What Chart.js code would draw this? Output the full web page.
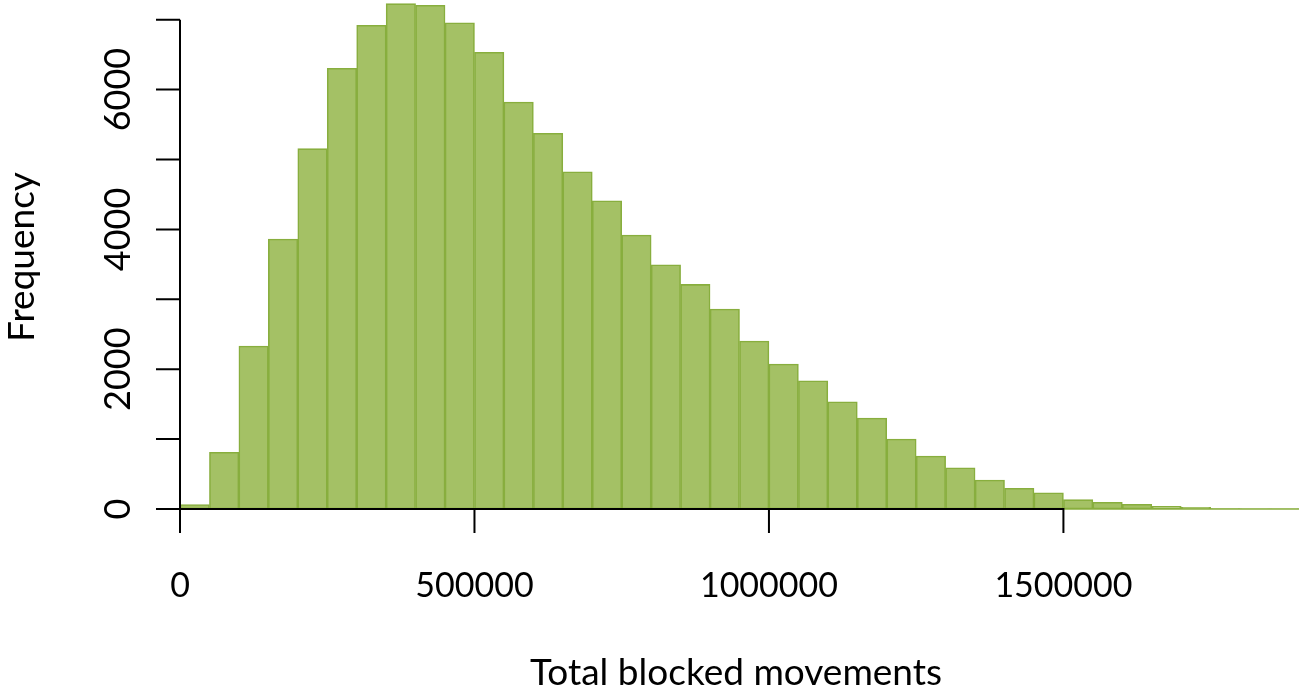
<!DOCTYPE html>
<html>
<head>
<meta charset="utf-8">
<script src="https://cdn.jsdelivr.net/npm/chart.js@4/dist/chart.umd.min.js"></script>
<style>
  html, body { margin: 0; padding: 0; background: #ffffff; }
  #wrap { width: 1299px; height: 691px; position: relative; }
</style>
</head>
<body>
<div id="wrap"><canvas id="c" width="1299" height="691"></canvas></div>
<script>
// ---- data ----
const binStarts = [0, 50000, 100000, 150000, 200000, 250000, 300000, 350000, 400000, 450000,
  500000, 550000, 600000, 650000, 700000, 750000, 800000, 850000, 900000, 950000,
  1000000, 1050000, 1100000, 1150000, 1200000, 1250000, 1300000, 1350000, 1400000, 1450000,
  1500000, 1550000, 1600000, 1650000, 1700000, 1750000, 1800000, 1850000];
const binWidth = 50000;
const frequencies = [65, 811, 2332, 3863, 5155, 6305, 6920, 7229, 7206, 6957,
  6533, 5823, 5375, 4825, 4410, 3920, 3495, 3213, 2861, 2403,
  2074, 1835, 1535, 1302, 1001, 758, 590, 415, 296, 233,
  133, 96, 67, 39, 24, 6, 3, 2];
const xTicks = [0, 500000, 1000000, 1500000];
const xTickLabels = ['0', '500000', '1000000', '1500000'];
const yTicks = [0, 1000, 2000, 3000, 4000, 5000, 6000, 7000];
const yTickLabels = ['0', '', '2000', '', '4000', '', '6000', ''];
const xTitle = 'Total blocked movements';
const yTitle = 'Frequency';

const FONT = 'Lato, "Open Sans", sans-serif';

const axesPlugin = {
  id: 'rAxes',
  afterDatasetsDraw(chart) {
    const ctx = chart.ctx;
    const xs = chart.scales.x, ys = chart.scales.y;
    const y0 = ys.getPixelForValue(0);
    const xLeft = xs.getPixelForValue(xTicks[0]);
    const xRight = xs.getPixelForValue(xTicks[xTicks.length - 1]);
    const yTop = ys.getPixelForValue(yTicks[yTicks.length - 1]);
    ctx.save();
    // thin green baseline for the near-empty tail bins
    ctx.strokeStyle = '#88ae3e';
    ctx.lineWidth = 1.5;
    ctx.beginPath();
    ctx.moveTo(xRight, y0);
    ctx.lineTo(xs.getPixelForValue(binStarts[binStarts.length - 1] + binWidth), y0);
    ctx.stroke();

    ctx.strokeStyle = '#000000';
    ctx.lineWidth = 2;
    ctx.lineCap = 'butt';
    // x axis
    ctx.beginPath();
    ctx.moveTo(xLeft - 1, y0);
    ctx.lineTo(xRight + 1, y0);
    xTicks.forEach(v => {
      const px = xs.getPixelForValue(v);
      ctx.moveTo(px, y0);
      ctx.lineTo(px, y0 + 24);
    });
    // y axis
    ctx.moveTo(xLeft, y0);
    ctx.lineTo(xLeft, yTop);
    yTicks.forEach(v => {
      const py = ys.getPixelForValue(v);
      ctx.moveTo(xLeft, py);
      ctx.lineTo(xLeft - 24, py);
    });
    ctx.stroke();

    ctx.fillStyle = '#000000';
    ctx.textAlign = 'center';
    ctx.textBaseline = 'middle';
    ctx.font = '34px ' + FONT;
    xTicks.forEach((v, i) => {
      ctx.fillText(xTickLabels[i], xs.getPixelForValue(v), 586);
    });
    ctx.font = '36px ' + FONT;
    yTicks.forEach((v, i) => {
      if (!yTickLabels[i]) return;
      ctx.save();
      ctx.translate(118, ys.getPixelForValue(v));
      ctx.rotate(-Math.PI / 2);
      ctx.fillText(yTickLabels[i], 0, 0);
      ctx.restore();
    });
    // titles
    ctx.font = '37px ' + FONT;
    ctx.textBaseline = 'alphabetic';
    ctx.fillText(xTitle, 736, 685);
    ctx.save();
    ctx.translate(34, 257);
    ctx.rotate(-Math.PI / 2);
    ctx.fillText(yTitle, 0, 0);
    ctx.restore();
    ctx.restore();
  }
};

const points = binStarts.map((s, i) => ({ x: s + binWidth / 2, y: frequencies[i] }));

new Chart(document.getElementById('c'), {
  type: 'bar',
  data: {
    datasets: [{
      data: points,
      backgroundColor: '#a4c165',
      borderColor: '#88ae3e',
      borderWidth: 1.6,
      borderSkipped: false,
      barPercentage: 1,
      categoryPercentage: 1,
      grouped: false
    }]
  },
  options: {
    responsive: false,
    animation: false,
    devicePixelRatio: 1,
    layout: { padding: { left: 180, right: 0, top: 0, bottom: 182 } },
    plugins: { legend: { display: false }, tooltip: { enabled: false } },
    scales: {
      x: { type: 'linear', min: 0, max: 1900000, display: false, offset: false },
      y: { type: 'linear', min: 0, max: 7282, display: false }
    }
  },
  plugins: [axesPlugin]
});
</script>
</body>
</html>
